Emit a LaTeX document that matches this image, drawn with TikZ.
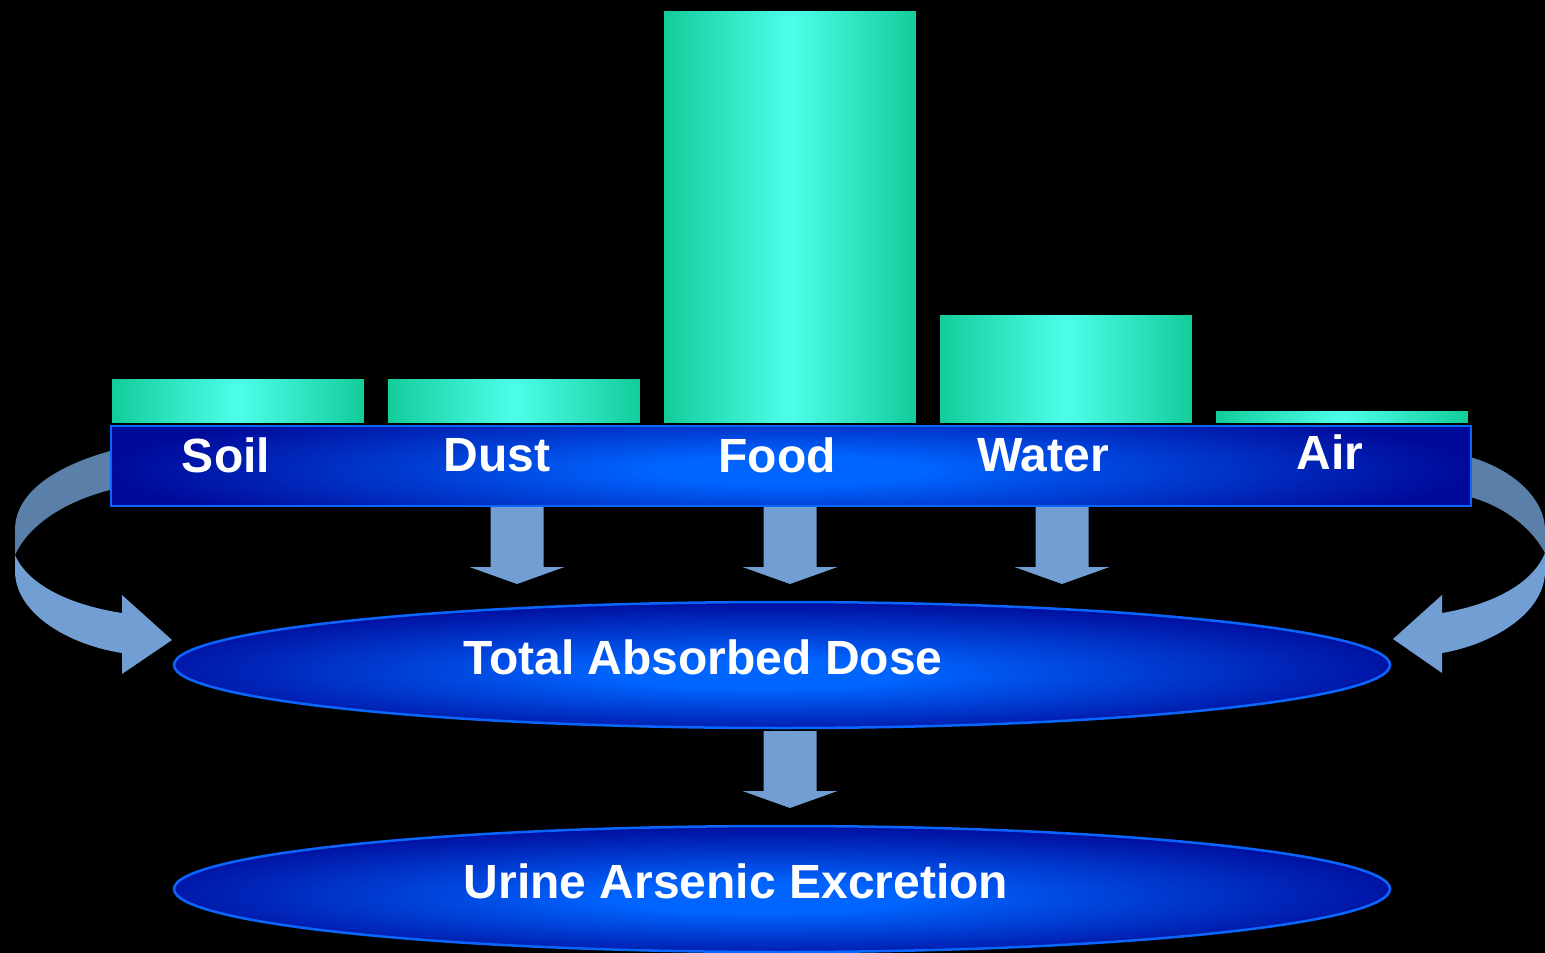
\documentclass[tikz,border=0pt]{standalone}
\usepackage{fontspec}
\setmainfont{Liberation Sans}
\usetikzlibrary{shapes.geometric}
\definecolor{tealedge}{HTML}{12CC9A}
\definecolor{tealmid}{HTML}{4DFFEA}
\definecolor{navy}{HTML}{000A99}
\definecolor{brightblue}{HTML}{0064FF}
\definecolor{rim}{HTML}{0A66FF}
\definecolor{arrowblue}{HTML}{729FD3}
\definecolor{arrowback}{HTML}{5A80AA}
\pgfdeclareradialshading{ellshade}{\pgfpoint{-1bp}{-4bp}}{color(0bp)=(brightblue); color(6bp)=(brightblue); color(28bp)=(navy); color(50bp)=(navy)}
\pgfdeclareradialshading{bandshade}{\pgfpoint{0bp}{-1bp}}{color(0bp)=(brightblue); color(5bp)=(brightblue); color(25bp)=(navy); color(50bp)=(navy)}
\tikzset{
  bar/.style={draw=black, line width=1.5pt, left color=tealedge, right color=tealedge, middle color=tealmid, inner sep=0pt},
  band/.style={draw=rim, line width=2pt, inner sep=0pt},
  ell/.style={ellipse, draw=rim, line width=2.5pt, shading=ellshade, minimum width=1216pt, minimum height=126pt, inner sep=0pt},
  lab/.style={text=white, font=\fontsize{48}{50}\selectfont\bfseries, inner sep=0pt},
  backband/.style={fill=arrowback},
  frontband/.style={fill=arrowblue}
}
\newcommand{\blockdown}[3]{%
  \fill[arrowblue] (#1-26.5,#2) -- (#1+26.5,#2) -- (#1+26.5,#3-17) -- (#1+47.5,#3-17) -- (#1,#3) -- (#1-47.5,#3-17) -- (#1-26.5,#3-17) -- cycle;}
\begin{document}
\begin{tikzpicture}[x=1pt,y=-1pt]
\fill[black] (0,0) rectangle (1545,953);
\useasboundingbox (0,0) rectangle (1545,953);
% curved arrows (behind)
\path[backband] (110,451) .. controls (50,468) and (15,495) .. (15,530) -- (15,555) .. controls (30,522) and (70,500) .. (110,490) -- cycle;
\path[frontband] (15,555) -- (15,573) .. controls (17,615) and (70,645) .. (122,653) -- (122,674) -- (172,640) -- (122,595) -- (122,613) .. controls (70,605) and (28,585) .. (15,555) -- cycle;
\path[backband] (1470,457) .. controls (1515,470) and (1545,500) .. (1545,530) -- (1545,553) .. controls (1530,525) and (1500,505) .. (1470,497) -- cycle;
\path[frontband] (1545,553) -- (1545,573) .. controls (1543,615) and (1490,645) .. (1442,653) -- (1442,673) -- (1393,639) -- (1442,595) -- (1442,613) .. controls (1490,605) and (1532,585) .. (1545,553) -- cycle;
% band
\begin{scope}
  \clip (110,425) rectangle (1470,505);
  \shade[shading=bandshade] (110,395) rectangle (1470,540);
\end{scope}
\node[band, anchor=north west, minimum width=1360pt, minimum height=80pt] (band) at (110,425) {};
% bars
\node[bar, anchor=south west, minimum width=254pt, minimum height=45pt] (soilbar) at (110,424) {};
\node[bar, anchor=south west, minimum width=254pt, minimum height=45pt] (dustbar) at (386,424) {};
\node[bar, anchor=south west, minimum width=254pt, minimum height=413pt] (foodbar) at (662,424) {};
\node[bar, anchor=south west, minimum width=254pt, minimum height=109pt] (waterbar) at (938,424) {};
\node[bar, anchor=south west, minimum width=254pt, minimum height=13pt] (airbar) at (1214,424) {};
% labels
\node[lab] (soil) at (226,455) {Soil};
\node[lab] (dust) at (497,455) {Dust};
\node[lab] (food) at (777,455) {Food};
\node[lab] (water) at (1043,455) {Water};
\node[lab] (air) at (1330,452) {Air};
% ellipses
\node[ell] (dose) at (782,665) {};
\node[lab] (dosetext) at (703,657) {Total Absorbed Dose};
\node[ell] (urine) at (782,889) {};
\node[lab] (urinetext) at (736,881) {Urine Arsenic Excretion};
% block arrows
\blockdown{517}{507}{584}
\blockdown{790}{507}{584}
\blockdown{1062}{507}{584}
\blockdown{790}{731}{808}
\end{tikzpicture}
\end{document}
